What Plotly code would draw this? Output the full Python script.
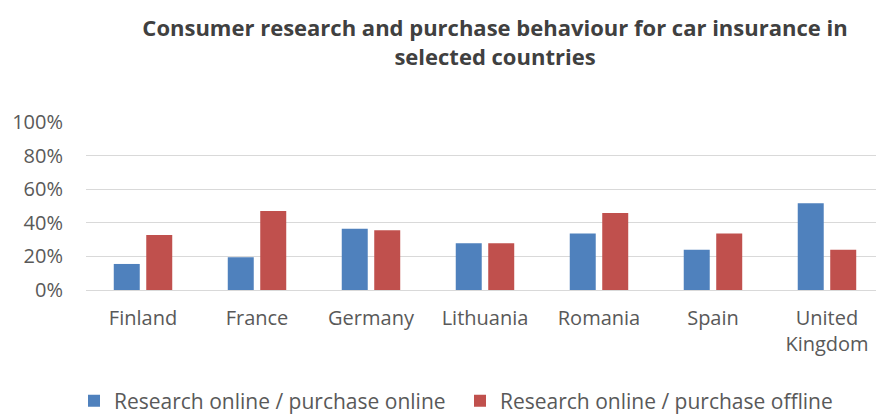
import plotly.graph_objects as go

countries = ["Finland", "France", "Germany", "Lithuania", "Romania", "Spain", "United<br>Kingdom"]
online_online = [0.155, 0.195, 0.365, 0.278, 0.337, 0.24, 0.516]
online_offline = [0.327, 0.47, 0.355, 0.278, 0.458, 0.337, 0.24]
series_names = ["Research online / purchase online", "Research online / purchase offline"]
y_ticks = [0, 0.2, 0.4, 0.6, 0.8, 1.0]
y_tick_labels = ["0%", "20%", "40%", "60%", "80%", "100%"]

FONT = "Open Sans"
TEXT = "#595959"
TICK_SIZE = 20

fig = go.Figure()
fig.add_trace(go.Bar(x=countries, y=online_online, name=series_names[0],
                     marker=dict(color="#4f81bd", line=dict(width=0))))
fig.add_trace(go.Bar(x=countries, y=online_offline, name=series_names[1],
                     marker=dict(color="#c0504d", line=dict(width=0))))

fig.update_layout(
    width=876, height=416,
    margin=dict(l=86, r=0, t=122, b=126, autoexpand=False),
    paper_bgcolor="white", plot_bgcolor="white",
    barmode="group", bargap=0.43, bargroupgap=0.2,
    font=dict(family=FONT, size=TICK_SIZE, color=TEXT),
    title=dict(
        text="<b>Consumer research and purchase behaviour for car insurance in<br>selected countries</b>",
        x=495 / 876, xanchor="center", xref="container",
        y=1 - 36 / 416, yanchor="middle", yref="container",
        font=dict(family=FONT, size=22, color="#404040"),
    ),
    xaxis=dict(range=[-0.5, 6.43], showgrid=False, zeroline=False, showline=False,
               ticks="", ticklabelstandoff=14, tickfont=dict(size=TICK_SIZE, color=TEXT)),
    yaxis=dict(range=[0, 1.0], tickvals=y_ticks, ticktext=y_tick_labels,
               showgrid=True, gridcolor="#d9d9d9", gridwidth=1,
               zeroline=True, zerolinecolor="#d9d9d9", zerolinewidth=1,
               showline=False, ticks="", ticklabelstandoff=22,
               tickfont=dict(size=TICK_SIZE, color=TEXT)),
    legend=dict(orientation="h", x=460 / 876, xref="container",
                xanchor="center", y=15 / 416, yref="container", yanchor="middle",
                font=dict(size=21, color=TEXT), itemwidth=30, entrywidth=341,
                traceorder="normal"),
    showlegend=True,
)

fig.write_html("out.html")
